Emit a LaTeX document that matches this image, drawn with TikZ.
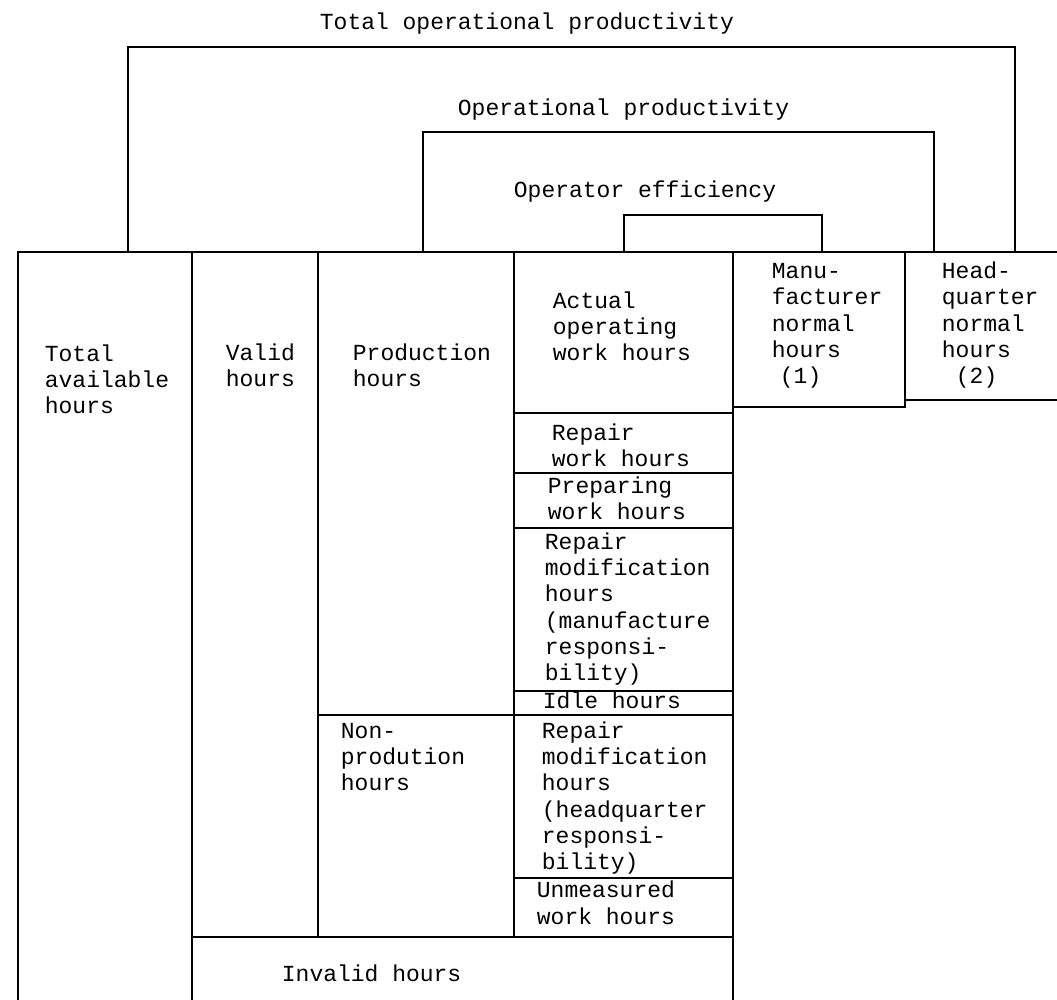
\documentclass[tikz,border=0pt]{standalone}
\usepackage{fontspec}
\newfontfamily\typewr{Liberation Mono}
\begin{document}
\begin{tikzpicture}[x=0.5pt,y=-0.5pt,line width=0.9pt,
  lbl/.style={anchor=base west,inner sep=0pt,align=left,font=\typewr\fontsize{11.5}{13.2}\selectfont}]
\useasboundingbox (0,0) rectangle (1057,1000);
\draw (128,252) -- (128,47) -- (1015,47) -- (1015,252);
\draw (423,252) -- (423,132) -- (934,132) -- (934,252);
\draw (624,252) -- (624,215) -- (822,215) -- (822,252);
\draw (18,1000) -- (18,252) -- (1057,252);
\draw (192,252) -- (192,1000);
\draw (318,252) -- (318,937);
\draw (514,252) -- (514,937);
\draw (733,252) -- (733,1000);
\draw (905,252) -- (905,407) -- (733,407);
\draw (905,400) -- (1057,400);
\draw (514,413) -- (733,413);
\draw (514,473) -- (733,473);
\draw (514,528) -- (733,528);
\draw (514,691) -- (733,691);
\draw (318,715) -- (733,715);
\draw (514,878) -- (733,878);
\draw (192,937) -- (733,937);
\node[lbl] (totprod) at (319,30) {Total operational productivity};
\node[lbl] (opprod) at (457,116) {Operational productivity};
\node[lbl] (opeff) at (513,198) {Operator efficiency};
\node[lbl] (total) at (44,414) {Total\\available\\hours};
\node[lbl] (valid) at (225,387) {Valid\\hours};
\node[lbl] (production) at (352,387) {Production\\hours};
\node[lbl] (actual) at (552,361) {Actual\\operating\\work hours};
\node[lbl] (manu) at (771,384) {Manu-\\facturer\\normal\\hours\\\hspace{4pt}(1)};
\node[lbl] (head) at (941,384) {Head-\\quarter\\normal\\hours\\\hspace{7pt}(2)};
\node[lbl] (repair) at (551,467) {Repair\\work hours};
\node[lbl] (preparing) at (547,520) {Preparing\\work hours};
\node[lbl] (modmanu) at (544,681) {Repair\\modification\\hours\\(manufacture\\responsi-\\bility)};
\node[lbl] (idle) at (542,709) {Idle hours};
\node[lbl] (nonprod) at (340,791) {Non-\\prodution\\hours};
\node[lbl] (modhead) at (541,870) {Repair\\modification\\hours\\(headquarter\\responsi-\\bility)};
\node[lbl] (unmeasured) at (536,924) {Unmeasured\\work hours};
\node[lbl] (invalid) at (281,981) {Invalid hours};
\end{tikzpicture}
\end{document}
